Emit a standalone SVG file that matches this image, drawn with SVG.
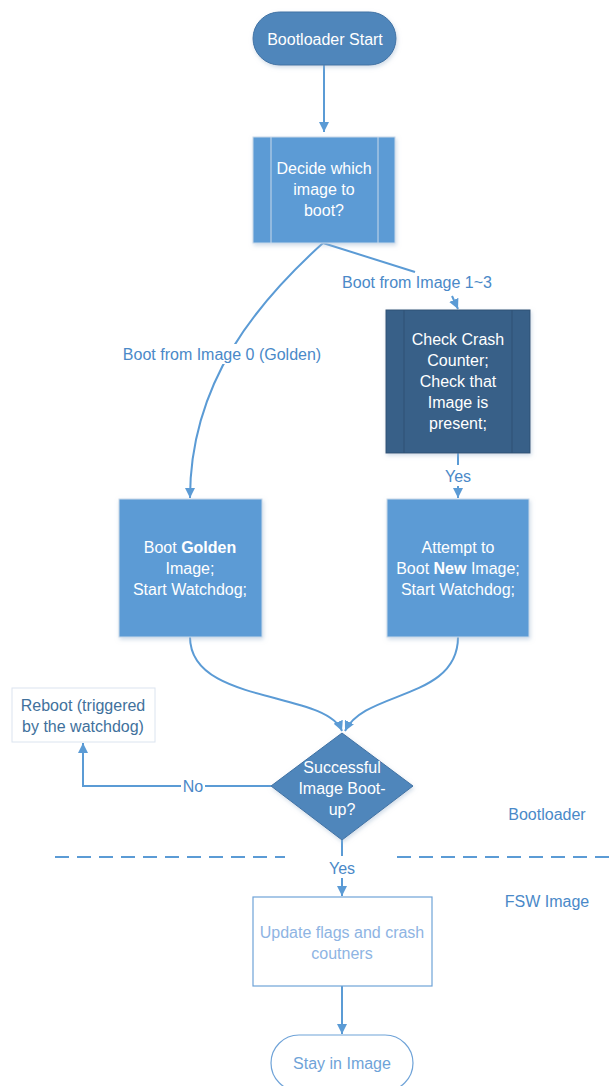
<svg xmlns="http://www.w3.org/2000/svg" width="611" height="1086" viewBox="0 0 611 1086">
<defs>
<marker id="arr" viewBox="0 0 10 10" refX="10" refY="5" markerWidth="10" markerHeight="10" markerUnits="userSpaceOnUse" orient="auto">
<path d="M0,0 L10,5 L0,10 z" fill="#5b9bd5"/>
</marker>
<filter id="sh" x="-10%" y="-10%" width="130%" height="130%">
<feDropShadow dx="1" dy="2" stdDeviation="2" flood-color="#9fb6cf" flood-opacity="0.5"/>
</filter>
</defs>
<style>
text{font-family:"Liberation Sans",Arial,sans-serif;font-size:16px;text-anchor:middle;dominant-baseline:central}
.w{fill:#ffffff}
.lb{fill:#4a89c8}
.edge{fill:none;stroke:#5b9bd5;stroke-width:2}
.proc{fill:#5b9bd5;stroke:#c9d9ea;stroke-width:1}
</style>
<rect width="611" height="1086" fill="#ffffff"/>
<g id="connectors">
<path class="edge" d="M324,65 L324,132" marker-end="url(#arr)"/>
<path class="edge" d="M323,243 C260,300 190,380 190,498" marker-end="url(#arr)"/>
<path class="edge" d="M323,243 L415,272"/>
<path class="edge" d="M452,296 L458,309" marker-end="url(#arr)"/>
<path class="edge" d="M458,453 L458,465"/>
<path class="edge" d="M458,486 L458,498" marker-end="url(#arr)"/>
<path class="edge" d="M190,637 C190,705 325,690 342,731" marker-end="url(#arr)"/>
<path class="edge" d="M458,637 C458,700 365,690 345,731" marker-end="url(#arr)"/>
<path class="edge" d="M271,786 L83,786 L83,743" marker-end="url(#arr)"/>
<path class="edge" d="M342,840 L342,856"/>
<path class="edge" d="M342,878 L342,896" marker-end="url(#arr)"/>
<path class="edge" d="M342,986 L342,1034" marker-end="url(#arr)"/>
<path d="M55,857 L285,857 M397,857 L611,857" fill="none" stroke="#5b9bd5" stroke-width="2" stroke-dasharray="14,8"/>
<rect x="120" y="344" width="204" height="20" fill="#ffffff"/>
<text class="lb" x="222" y="354">Boot from Image 0 (Golden)</text>
<text class="lb" x="417" y="282">Boot from Image 1~3</text>
<text class="lb" x="458" y="476">Yes</text>
<rect x="181" y="777" width="24" height="18" fill="#ffffff"/>
<text class="lb" x="193" y="786">No</text>
<text class="lb" x="342" y="868">Yes</text>
</g>
<g id="start">
<rect x="253" y="12" width="143" height="53" rx="26.5" fill="#4f86bb" stroke="#3f72a4" stroke-width="1" filter="url(#sh)"/>
<text class="w" x="325" y="39">Bootloader Start</text>
</g>
<g id="decide">
<rect class="proc" x="253" y="137" width="142" height="106" filter="url(#sh)"/>
<path d="M271,137 V243 M378,137 V243" stroke="#c9d9ea" stroke-width="1"/>
<text class="w" x="324" y="168">Decide which</text>
<text class="w" x="324" y="189">image to</text>
<text class="w" x="324" y="210">boot?</text>
</g>
<g id="check">
<rect x="386" y="310" width="144" height="143" fill="#386088" stroke="#2e5174" stroke-width="1" filter="url(#sh)"/>
<path d="M404,310 V453 M512,310 V453" stroke="#2e5174" stroke-width="1"/>
<text class="w" x="458" y="339">Check Crash</text>
<text class="w" x="458" y="360">Counter;</text>
<text class="w" x="458" y="381">Check that</text>
<text class="w" x="458" y="402">Image is</text>
<text class="w" x="458" y="423">present;</text>
</g>
<g id="golden">
<rect class="proc" x="119" y="499" width="143" height="138" filter="url(#sh)"/>
<text class="w" x="190" y="547">Boot <tspan font-weight="bold">Golden</tspan></text>
<text class="w" x="190" y="568">Image;</text>
<text class="w" x="190" y="589">Start Watchdog;</text>
</g>
<g id="new">
<rect class="proc" x="387" y="499" width="142" height="138" filter="url(#sh)"/>
<text class="w" x="458" y="547">Attempt to</text>
<text class="w" x="458" y="568">Boot <tspan font-weight="bold">New</tspan> Image;</text>
<text class="w" x="458" y="589">Start Watchdog;</text>
</g>
<g id="reboot">
<rect x="12" y="688" width="143" height="54" fill="#ffffff" stroke="#dbe4ef" stroke-width="1"/>
<text x="83" y="705" fill="#41719c">Reboot (triggered</text>
<text x="83" y="726" fill="#41719c">by the watchdog)</text>
</g>
<g id="decision">
<path d="M342,733 L413,786 L342,840 L271,786 z" fill="#4f86bb" stroke="#3f72a4" stroke-width="1" filter="url(#sh)"/>
<text class="w" x="342" y="767">Successful</text>
<text class="w" x="342" y="788">Image Boot-</text>
<text class="w" x="342" y="809">up?</text>
</g>
<g id="update">
<rect x="253" y="897" width="179" height="89" fill="#ffffff" stroke="#6fa3d8" stroke-width="1.2"/>
<text x="342" y="932" fill="#8eb4e3">Update flags and crash</text>
<text x="342" y="953" fill="#8eb4e3">coutners</text>
</g>
<g id="stay">
<rect x="271" y="1035" width="142" height="56" rx="28" fill="#ffffff" stroke="#6fa3d8" stroke-width="1.2"/>
<text x="342" y="1063" fill="#6fa3d8">Stay in Image</text>
</g>
<g id="zones">
<text class="lb" x="547" y="814">Bootloader</text>
<text class="lb" x="547" y="901">FSW Image</text>
</g>
</svg>
